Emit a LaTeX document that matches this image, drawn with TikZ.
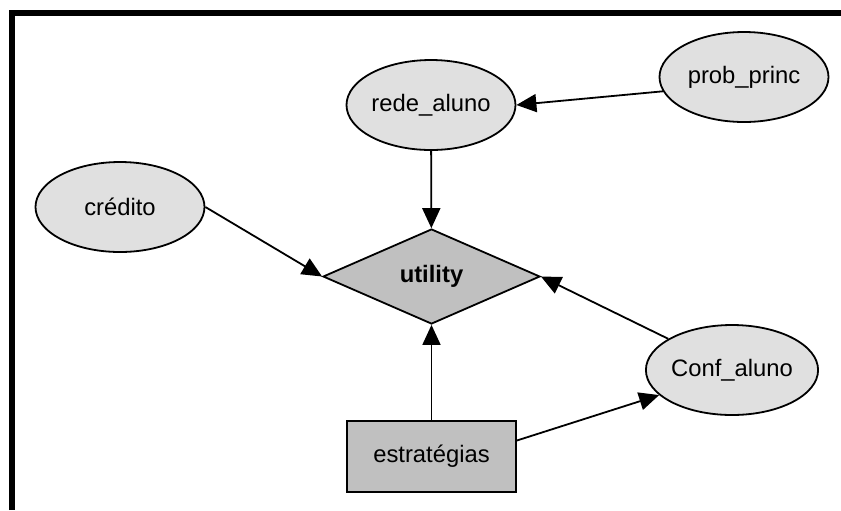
\documentclass[tikz,border=0pt]{standalone}
\usepackage{fontspec}
\setmainfont{Liberation Sans}
\usetikzlibrary{shapes.geometric,arrows.meta}
\definecolor{chanceFill}{RGB}{224,224,224}
\definecolor{declFill}{RGB}{192,192,192}
\begin{document}
\begin{tikzpicture}[x=0.5pt,y=-0.5pt,
  font=\fontsize{11.9}{14}\selectfont,
  chance/.style={ellipse,draw=black,line width=0.9pt,fill=chanceFill,
    minimum width=84.5pt,minimum height=45pt,inner sep=0pt},
  utilnode/.style={diamond,draw=black,line width=0.9pt,fill=declFill,
    aspect=2.28,minimum width=108.5pt,minimum height=47.5pt,inner sep=0pt,
    font=\fontsize{11.9}{14}\selectfont\bfseries},
  decision/.style={rectangle,draw=black,line width=0.9pt,fill=declFill,
    minimum width=84.5pt,minimum height=35.5pt,inner sep=0pt},
  link/.style={line width=0.9pt,-{Triangle[length=10pt,width=9pt]}}]
  \useasboundingbox (0,0) rectangle (841,510);
  % frame: top and left edges only
  \draw[line width=3.2pt] (11.7,510) -- (11.7,13) -- (841,13);

  \node[chance] (prob) at (744,77) {prob\_princ};
  \node[chance] (rede) at (431,105) {rede\_aluno};
  \node[chance] (cred) at (120,207) {crédito};
  \node[chance] (conf) at (732,370) {Conf\_aluno};
  \node[utilnode] (util) at (431.5,276.5) {utility};
  \node[decision] (estr) at (431.5,456.5) {estratégias};

  \draw[link] (prob.190) -- (rede.east);
  \draw[link] (rede) -- (util);
  \draw[link] (cred.east) -- (util.west);
  \draw[link] (conf) -- (util.east);
  \draw[link] (estr.north) -- (util.south);
  \draw[link] ([yshift=8pt]estr.east) -- (conf.199);
\end{tikzpicture}
\end{document}
